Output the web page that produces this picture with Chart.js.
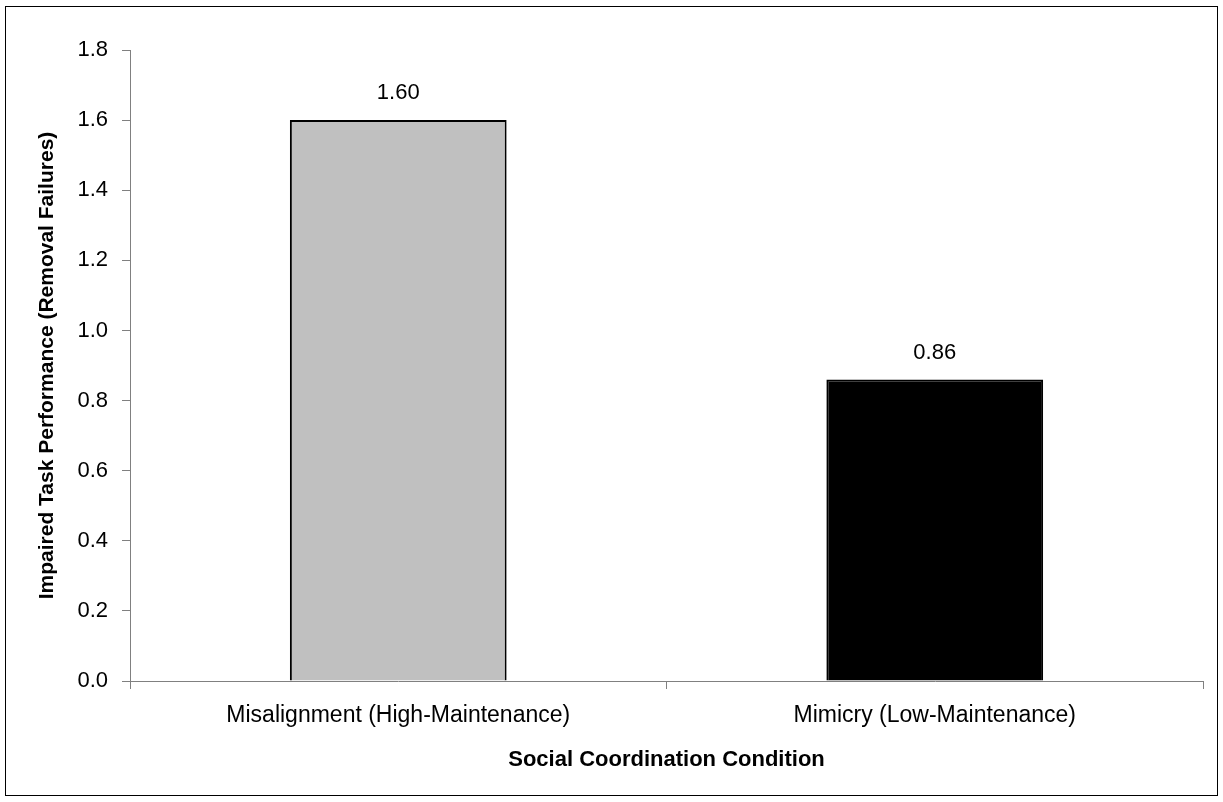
<!DOCTYPE html>
<html>
<head>
<meta charset="utf-8">
<script src="https://cdn.jsdelivr.net/npm/chart.js@4"></script>
<style>
  html, body { margin: 0; padding: 0; background: #fff; }
  #wrap { width: 1223px; height: 802px; }
</style>
</head>
<body>
<div id="wrap"><canvas id="myChart" width="1223" height="802"></canvas></div>
<script>
// Data
const categories = ['Misalignment (High-Maintenance)', 'Mimicry (Low-Maintenance)'];
const removalFailures = [1.60, 0.86];
const yTicks = [0, 0.2, 0.4, 0.6, 0.8, 1.0, 1.2, 1.4, 1.6, 1.8];

const FONT = "'Liberation Sans', Arial, sans-serif";
const axisGrey = '#808080';

// outer frame around the whole figure
const framePlugin = {
  id: 'frame',
  afterDraw(chart) {
    const c = chart.ctx;
    c.save();
    c.strokeStyle = '#000';
    c.lineWidth = 1;
    c.strokeRect(5.5, 6.5, 1212, 789);
    c.restore();
  }
};

// value labels above each bar
const valueLabels = {
  id: 'valueLabels',
  afterDatasetsDraw(chart) {
    const c = chart.ctx;
    const meta = chart.getDatasetMeta(0);
    c.save();
    c.font = '22px ' + FONT;
    c.fillStyle = '#000';
    c.textAlign = 'center';
    c.textBaseline = 'alphabetic';
    meta.data.forEach((bar, i) => {
      c.fillText(removalFailures[i].toFixed(2), bar.x, bar.y - 21);
    });
    c.restore();
  }
};

const ctx = document.getElementById('myChart').getContext('2d');
new Chart(ctx, {
  type: 'bar',
  data: {
    labels: categories,
    datasets: [{
      data: removalFailures,
      backgroundColor: ['#c0c0c0', '#000000'],
      borderColor: '#000000',
      borderWidth: 2,
      barPercentage: 0.404,
      categoryPercentage: 1.0
    }]
  },
  options: {
    responsive: false,
    animation: false,
    events: [],
    layout: { padding: { left: 0, right: 20, top: 50, bottom: 0 } },
    plugins: {
      legend: { display: false },
      tooltip: { enabled: false }
    },
    scales: {
      x: {
        grid: {
          offset: true,
          drawOnChartArea: false,
          drawTicks: true,
          tickLength: 8,
          color: axisGrey
        },
        border: { color: axisGrey, width: 1 },
        ticks: {
          color: '#000',
          font: { family: FONT, size: 23 },
          padding: 13
        },
        title: {
          display: true,
          text: 'Social Coordination Condition',
          color: '#000',
          font: { family: FONT, size: 22, weight: 'bold' },
          padding: { top: 0, bottom: 29 }
        },
        afterFit(scale) { scale.height = 121; }
      },
      y: {
        min: 0,
        max: 1.8,
        grid: {
          drawOnChartArea: false,
          drawTicks: true,
          tickLength: 8,
          color: axisGrey
        },
        border: { color: axisGrey, width: 1 },
        ticks: {
          color: '#000',
          font: { family: FONT, size: 22 },
          padding: 14,
          stepSize: 0.2,
          autoSkip: false,
          callback: (v) => Number(v).toFixed(1)
        },
        afterBuildTicks(scale) {
          scale.ticks = yTicks.map(v => ({ value: v }));
        },
        title: {
          display: true,
          text: 'Impaired Task Performance (Removal Failures)',
          color: '#000',
          font: { family: FONT, size: 21, weight: 'bold' },
          padding: { top: 35, bottom: 0 }
        },
        afterFit(scale) { scale.width = 130; }
      }
    }
  },
  plugins: [framePlugin, valueLabels]
});
</script>
</body>
</html>
